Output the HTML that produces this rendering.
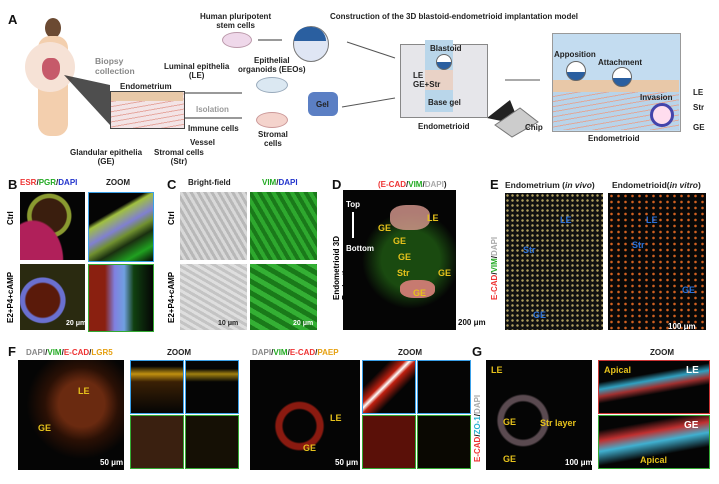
<!DOCTYPE html>
<html><head><meta charset="utf-8"><style>
body{margin:0;width:719px;height:484px;background:#fff;position:relative;overflow:hidden;font-family:"Liberation Sans",Arial,sans-serif;}
.a{position:absolute}
.t{position:absolute;font-size:8px;font-weight:bold;color:#222;white-space:nowrap}
.L{position:absolute;font-size:13px;font-weight:bold;color:#111}
.img{position:absolute;background:#050505;overflow:hidden}
.y{color:#e6c21c;font-weight:bold;position:absolute;font-size:9px}
.b{color:#2a6fd6;font-weight:bold;position:absolute;font-size:9px}
.w{color:#fff;font-weight:bold;position:absolute;font-size:8px}
.v{position:absolute;transform:rotate(-90deg);transform-origin:left top;font-size:8px;font-weight:bold;white-space:nowrap}
</style></head><body>
<!-- Panel A -->
<div class="L" style="left:8px;top:12px">A</div>
<div class="a" style="left:45px;top:18px;width:16px;height:20px;border-radius:50%;background:#6b4a32"></div>
<div class="a" style="left:38px;top:36px;width:30px;height:100px;border-radius:12px;background:#f3cfae"></div>
<div class="a" style="left:25px;top:42px;width:50px;height:50px;border-radius:50%;background:#f6e2d6"></div>
<div class="a" style="left:42px;top:58px;width:18px;height:22px;border-radius:40% 40% 50% 50%;background:#c65a6a"></div>
<svg class="a" style="left:0;top:0" width="719" height="170">
<polygon points="64,75 110,85 110,125" fill="#222" opacity=".8"/>
<line x1="183" y1="93" x2="242" y2="93" stroke="#333"/><line x1="183" y1="118" x2="242" y2="118" stroke="#333"/>
<line x1="258" y1="40" x2="282" y2="40" stroke="#333"/>
<line x1="347" y1="42" x2="395" y2="58" stroke="#555"/><line x1="342" y1="107" x2="395" y2="98" stroke="#555"/>
<line x1="505" y1="80" x2="540" y2="80" stroke="#555"/>
<polygon points="487,118 510,100 520,125" fill="#222"/>
<polygon points="495,125 520,108 538,122 512,137" fill="#ccc" stroke="#777"/>
</svg>
<div class="t" style="left:95px;top:56px;color:#888;font-size:8.5px">Biopsy<br>collection</div>
<div class="t" style="left:164px;top:62px;text-align:center">Luminal epithelia<br>(LE)</div>
<div class="t" style="left:120px;top:82px">Endometrium</div>
<div class="a" style="left:110px;top:91px;width:73px;height:36px;background:repeating-linear-gradient(170deg,#f3e4e6 0 4px,#e6a8a0 4px 5px);border:1px solid #444"></div>
<div class="a" style="left:111px;top:92px;width:72px;height:9px;background:#e8c9a8"></div>
<div class="t" style="left:196px;top:105px;color:#999">Isolation</div>
<div class="t" style="left:188px;top:124px">Immune cells</div>
<div class="t" style="left:190px;top:138px">Vessel</div>
<div class="t" style="left:70px;top:148px;text-align:center">Glandular epithelia<br>(GE)</div>
<div class="t" style="left:154px;top:148px;text-align:center">Stromal cells<br>(Str)</div>
<div class="t" style="left:200px;top:12px;text-align:center">Human pluripotent<br>stem cells</div>
<div class="a" style="left:222px;top:32px;width:28px;height:14px;border-radius:50%;background:#efd8ea;border:1px solid #b9a"></div>
<div class="a" style="left:293px;top:26px;width:34px;height:34px;border-radius:50%;background:#dfe6f4;border:1px solid #777"></div>
<div class="a" style="left:294px;top:27px;width:32px;height:14px;border-radius:16px 16px 0 0;background:#2a5fa0"></div>
<div class="t" style="left:238px;top:56px;text-align:center">Epithelial<br>organoids (EEOs)</div>
<div class="a" style="left:256px;top:77px;width:30px;height:14px;border-radius:50%;background:#dbe8f2;border:1px solid #9ab"></div>
<div class="a" style="left:256px;top:112px;width:30px;height:14px;border-radius:50%;background:#f4d3cc;border:1px solid #c99"></div>
<div class="t" style="left:258px;top:130px;text-align:center">Stromal<br>cells</div>
<div class="a" style="left:308px;top:92px;width:30px;height:24px;border-radius:6px;background:#5b7fc4"></div>
<div class="t" style="left:316px;top:100px">Gel</div>
<div class="t" style="left:330px;top:12px">Construction of the 3D blastoid-endometrioid implantation model</div>
<div class="a" style="left:400px;top:44px;width:86px;height:72px;background:#e6e6ea;border:1px solid #888"></div>
<div class="a" style="left:425px;top:40px;width:28px;height:72px;background:#b9d6ea"></div>
<div class="a" style="left:425px;top:70px;width:28px;height:20px;background:#e9d2c6"></div>
<div class="a" style="left:436px;top:54px;width:14px;height:14px;border-radius:50%;background:linear-gradient(#fff 50%,#2a5fa0 50%);border:1px solid #666"></div>
<div class="t" style="left:430px;top:44px">Blastoid</div>
<div class="t" style="left:413px;top:71px">LE<br>GE+Str</div>
<div class="t" style="left:428px;top:98px">Base gel</div>
<div class="t" style="left:418px;top:122px">Endometrioid</div>
<div class="t" style="left:525px;top:123px">Chip</div>
<div class="a" style="left:552px;top:33px;width:127px;height:97px;background:#c3dcf0;border:1px solid #999"></div>
<div class="a" style="left:553px;top:80px;width:126px;height:12px;background:#e8c8a8"></div>
<div class="a" style="left:553px;top:92px;width:126px;height:38px;background:repeating-linear-gradient(170deg,#b9d4ea 0 4px,#e0a89a 4px 5px)"></div>
<div class="a" style="left:566px;top:61px;width:18px;height:18px;border-radius:50%;background:linear-gradient(#fff 55%,#2a5fa0 55%);border:1px solid #666"></div>
<div class="a" style="left:612px;top:67px;width:18px;height:18px;border-radius:50%;background:linear-gradient(#fff 55%,#2a5fa0 55%);border:1px solid #666"></div>
<div class="a" style="left:650px;top:103px;width:18px;height:18px;border-radius:50%;background:#fde;border:3px solid #44a"></div>
<div class="t" style="left:554px;top:50px">Apposition</div>
<div class="t" style="left:598px;top:58px">Attachment</div>
<div class="t" style="left:640px;top:93px">Invasion</div>
<div class="t" style="left:693px;top:88px">LE</div><div class="t" style="left:693px;top:103px">Str</div><div class="t" style="left:693px;top:123px">GE</div>
<div class="t" style="left:588px;top:134px">Endometrioid</div>
<!-- B -->
<div class="L" style="left:8px;top:177px">B</div>
<div class="t" style="left:20px;top:178px"><span style="color:#e33">ESR</span>/<span style="color:#2a2">PGR</span>/<span style="color:#23c">DAPI</span></div>
<div class="t" style="left:106px;top:178px">ZOOM</div>
<div class="v" style="left:6px;top:225px">Ctrl</div>
<div class="v" style="left:6px;top:323px">E2+P4+cAMP</div>
<div class="img" style="left:20px;top:192px;width:65px;height:68px;background:radial-gradient(ellipse at 20% 100%,#b0205a 0 40%,transparent 42%),radial-gradient(circle at 45% 35%,#3a1e0e 0 30%,#8a9a30 32% 38%,#050505 40%)"></div>
<div class="img" style="left:88px;top:192px;width:64px;height:68px;border:1px solid #3aa0e8;background:linear-gradient(150deg,#050505 30%,#a0c040 35%,#8080d0 50%,#709030 60%,#1a3010 70%,#20a020 85%,#050505)"></div>
<div class="img" style="left:20px;top:264px;width:65px;height:66px;background:radial-gradient(circle at 35% 55%,#5a1a0a 0 30%,#6a70d0 33% 40%,#2a2a10 42%)"></div>
<div class="img" style="left:88px;top:264px;width:64px;height:66px;border:1px solid #3a3;background:linear-gradient(90deg,#8a2010 0 25%,#8080e0 40%,#70a0e0 55%,#104010 70%,#050505)"></div>
<div class="w" style="left:66px;top:320px;font-size:7px">20 μm</div>
<!-- C -->
<div class="L" style="left:167px;top:177px">C</div>
<div class="t" style="left:188px;top:178px">Bright-field</div>
<div class="t" style="left:262px;top:178px"><span style="color:#2a2">VIM</span>/<span style="color:#23c">DAPI</span></div>
<div class="v" style="left:167px;top:225px">Ctrl</div>
<div class="v" style="left:167px;top:323px">E2+P4+cAMP</div>
<div class="img" style="left:180px;top:192px;width:67px;height:68px;background:repeating-linear-gradient(60deg,#b8b8b8 0 3px,#d8d8d8 3px 6px)"></div>
<div class="img" style="left:250px;top:192px;width:67px;height:68px;background:repeating-linear-gradient(60deg,#1a7a1a 0 4px,#2ea82e 4px 8px)"></div>
<div class="img" style="left:180px;top:264px;width:67px;height:66px;background:repeating-linear-gradient(30deg,#c4c4c4 0 3px,#dedede 3px 6px)"></div>
<div class="img" style="left:250px;top:264px;width:67px;height:66px;background:repeating-linear-gradient(30deg,#1a7a1a 0 5px,#34b034 5px 10px)"></div>
<div class="w" style="left:218px;top:320px;font-size:7px;color:#222">10 μm</div>
<div class="w" style="left:293px;top:320px;font-size:7px">20 μm</div>
<!-- D -->
<div class="L" style="left:332px;top:177px">D</div>
<div class="t" style="left:378px;top:180px"><span style="color:#e33">(E-CAD</span>/<span style="color:#2a2">VIM</span>/<span style="color:#aaa">DAPI</span>)</div>
<div class="v" style="left:332px;top:300px;font-size:8px">Endometrioid 3D<br>Projection</div>
<div class="img" style="left:343px;top:190px;width:113px;height:140px;background:radial-gradient(circle at 60% 50%,#1a4a10 0 30%,#050505 50%)"></div>
<div class="a" style="left:390px;top:205px;width:40px;height:25px;border-radius:40%;background:#d99a90;opacity:.8"></div>
<div class="a" style="left:400px;top:280px;width:35px;height:18px;border-radius:40%;background:#c77a70"></div>
<div class="w" style="left:346px;top:200px">Top</div><div class="w" style="left:346px;top:244px">Bottom</div>
<div class="a" style="left:352px;top:212px;width:2px;height:26px;background:#fff"></div>
<div class="y" style="left:427px;top:213px">LE</div><div class="y" style="left:378px;top:223px">GE</div><div class="y" style="left:393px;top:236px">GE</div><div class="y" style="left:398px;top:252px">GE</div><div class="y" style="left:397px;top:268px">Str</div><div class="y" style="left:438px;top:268px">GE</div><div class="y" style="left:413px;top:288px">GE</div>
<div class="w" style="left:458px;top:318px;color:#111">200 μm</div>
<!-- E -->
<div class="L" style="left:490px;top:177px">E</div>
<div class="t" style="left:505px;top:180px;font-size:8.5px">Endometrium (<i>in vivo</i>)</div>
<div class="t" style="left:612px;top:180px;font-size:8.5px">Endometrioid(<i>in vitro</i>)</div>
<div class="v" style="left:490px;top:300px"><span style="color:#e33">E-CAD</span>/<span style="color:#2a2">VIM</span>/<span style="color:#aaa">DAPI</span></div>
<div class="img" style="left:505px;top:193px;width:98px;height:137px;background:radial-gradient(circle,#b0a060 1px,transparent 1.5px) 0 0/5px 5px,#111"></div>
<div class="img" style="left:608px;top:193px;width:98px;height:137px;background:radial-gradient(circle,#d06020 1px,transparent 1.6px) 0 0/7px 6px,#080808"></div>
<div class="b" style="left:560px;top:215px">LE</div><div class="b" style="left:523px;top:245px">Str</div><div class="b" style="left:533px;top:310px">GE</div>
<div class="b" style="left:646px;top:215px">LE</div><div class="b" style="left:632px;top:240px">Str</div><div class="b" style="left:682px;top:285px">GE</div>
<div class="w" style="left:668px;top:322px">100 μm</div>
<!-- F -->
<div class="L" style="left:8px;top:344px">F</div>
<div class="t" style="left:26px;top:348px"><span style="color:#888">DAPI</span>/<span style="color:#2a2">VIM</span>/<span style="color:#e33">E-CAD</span>/<span style="color:#e6a010">LGR5</span></div>
<div class="t" style="left:167px;top:348px">ZOOM</div>
<div class="t" style="left:252px;top:348px"><span style="color:#888">DAPI</span>/<span style="color:#2a2">VIM</span>/<span style="color:#e33">E-CAD</span>/<span style="color:#e6a010">PAEP</span></div>
<div class="t" style="left:398px;top:348px">ZOOM</div>
<div class="img" style="left:18px;top:360px;width:106px;height:110px;background:radial-gradient(circle at 60% 40%,#6a2a10 0 25%,#2a1005 40%,#050505 60%)"></div>
<div class="img" style="left:130px;top:360px;width:52px;height:52px;border:1px solid #3aa0e8;background:linear-gradient(#050505 10%,#c09010 25%,#3a2005 40%,#050505)"></div>
<div class="img" style="left:185px;top:360px;width:52px;height:52px;border:1px solid #3aa0e8;background:linear-gradient(#050505 15%,#a08010 25%,#050505 40%)"></div>
<div class="img" style="left:130px;top:415px;width:52px;height:52px;border:1px solid #3a3;background:#3a2010"></div>
<div class="img" style="left:185px;top:415px;width:52px;height:52px;border:1px solid #3a3;background:#151005"></div>
<div class="y" style="left:78px;top:386px">LE</div><div class="y" style="left:38px;top:423px">GE</div>
<div class="w" style="left:100px;top:458px">50 μm</div>
<div class="img" style="left:250px;top:360px;width:110px;height:110px;background:radial-gradient(circle at 45% 60%,#050505 0 18%,#8a1a10 20% 26%,#050505 28%)"></div>
<div class="img" style="left:362px;top:360px;width:52px;height:52px;border:1px solid #3aa0e8;background:linear-gradient(135deg,#050505 25%,#c02010 40%,#fff 45%,#c02010 50%,#050505 65%)"></div>
<div class="img" style="left:417px;top:360px;width:52px;height:52px;border:1px solid #3aa0e8"></div>
<div class="img" style="left:362px;top:415px;width:52px;height:52px;border:1px solid #3a3;background:#5a1008"></div>
<div class="img" style="left:417px;top:415px;width:52px;height:52px;border:1px solid #3a3;background:#0a0802"></div>
<div class="y" style="left:330px;top:413px">LE</div><div class="y" style="left:303px;top:443px">GE</div>
<div class="w" style="left:335px;top:458px">50 μm</div>
<!-- G -->
<div class="L" style="left:472px;top:344px">G</div>
<div class="t" style="left:650px;top:348px">ZOOM</div>
<div class="v" style="left:473px;top:462px"><span style="color:#e33">E-CAD</span>/<span style="color:#2ab0d0">ZO-1</span>/<span style="color:#aaa">DAPI</span></div>
<div class="img" style="left:486px;top:360px;width:106px;height:110px;background:radial-gradient(circle at 35% 55%,#050505 0 20%,#5a4a50 22% 27%,#050505 29%)"></div>
<div class="img" style="left:598px;top:360px;width:110px;height:52px;border:1px solid #c33;background:linear-gradient(170deg,#050505 30%,#30a0c0 40%,#a03030 50%,#050505 60%)"></div>
<div class="img" style="left:598px;top:415px;width:110px;height:52px;border:1px solid #3a3;background:linear-gradient(170deg,#050505 20%,#c03030 35%,#40b0d0 50%,#050505 70%)"></div>
<div class="y" style="left:491px;top:365px">LE</div><div class="y" style="left:503px;top:417px">GE</div><div class="y" style="left:540px;top:418px">Str layer</div><div class="y" style="left:503px;top:454px">GE</div>
<div class="w" style="left:565px;top:458px">100 μm</div>
<div class="y" style="left:604px;top:365px">Apical</div><div class="w" style="left:686px;top:365px;font-size:10px">LE</div>
<div class="w" style="left:684px;top:420px;font-size:10px">GE</div><div class="y" style="left:640px;top:455px">Apical</div>
</body></html>
